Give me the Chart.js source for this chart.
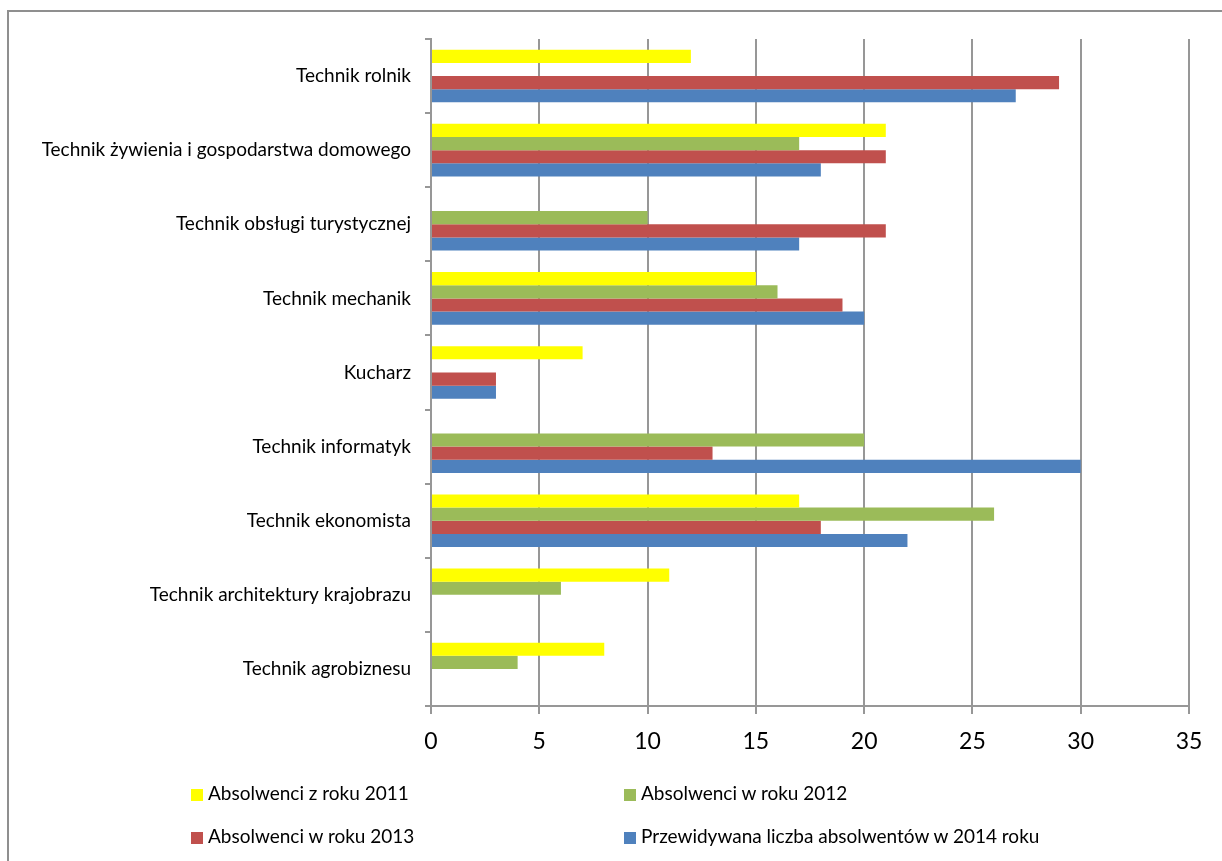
<!DOCTYPE html>
<html lang="pl">
<head>
    <meta charset="UTF-8">
    <title>Absolwenci wg zawodu</title>
    <script src="https://cdn.jsdelivr.net/npm/chart.js"></script>
    <style>
        body { margin: 0; overflow: hidden; background: #fff; font-family: Lato, "Open Sans", sans-serif; }
        #frame { position: absolute; left: 7px; top: 10px; width: 1240px; height: 880px; border: 2px solid #8f8f8f; box-sizing: border-box; }
        #myChart { position: absolute; left: 0; top: 0; }
        .leg { position: absolute; font-size: 19px; color: #000; white-space: nowrap; line-height: 22px; }
        .leg span { display: inline-block; width: 12px; height: 12px; margin-right: 5px; vertical-align: -1px; }
    </style>
</head>
<body>

<div id="frame"></div>
<canvas id="myChart" width="1222" height="861"></canvas>
<div id="legend"></div>

<script>
    // kategorie od góry do dołu
    const zawody = [
        'Technik rolnik',
        'Technik żywienia i gospodarstwa domowego',
        'Technik obsługi turystycznej',
        'Technik mechanik',
        'Kucharz',
        'Technik informatyk',
        'Technik ekonomista',
        'Technik architektury krajobrazu',
        'Technik agrobiznesu'
    ];

    const rok2011 = [12, 21, null, 15, 7, null, 17, 11, 8];
    const rok2012 = [null, 17, 10, 16, null, 20, 26, 6, 4];
    const rok2013 = [29, 21, 21, 19, 3, 13, 18, null, null];
    const rok2014 = [27, 18, 17, 20, 3, 30, 22, null, null];

    const xTicks = [0, 5, 10, 15, 20, 25, 30, 35];

    const etykiety = [
        'Absolwenci z roku 2011',
        'Absolwenci w roku 2012',
        'Absolwenci w roku 2013',
        'Przewidywana liczba absolwentów w 2014 roku'
    ];
    const kolory = ['#FFFF00', '#9BBB59', '#C0504D', '#4F81BD'];

    const serie = [rok2011, rok2012, rok2013, rok2014];

    const ctx = document.getElementById('myChart').getContext('2d');
    const chart = new Chart(ctx, {
        type: 'bar',
        data: {
            labels: zawody,
            datasets: serie.map((d, i) => ({
                label: etykiety[i],
                data: d,
                backgroundColor: kolory[i],
                borderWidth: 0,
                categoryPercentage: 0.71,
                barPercentage: 1.0
            }))
        },
        options: {
            indexAxis: 'y',
            responsive: false,
            animation: false,
            layout: { padding: { top: 39, right: 33, left: 0, bottom: 0 } },
            plugins: {
                legend: { display: false },
                tooltip: { enabled: false }
            },
            scales: {
                x: {
                    min: 0,
                    max: 35,
                    afterBuildTicks: s => { s.ticks = xTicks.map(v => ({ value: v })); },
                    afterFit: s => { s.height = 155; },
                    grid: { color: '#979797', lineWidth: 2, tickLength: 8 },
                    border: { color: '#979797', width: 2 },
                    ticks: {
                        color: '#000',
                        padding: 14,
                        font: { family: 'Lato', size: 23 }
                    }
                },
                y: {
                    afterFit: s => { s.width = 431; },
                    grid: { offset: true, drawOnChartArea: false, color: '#979797', lineWidth: 2, tickLength: 6 },
                    border: { color: '#979797', width: 2 },
                    ticks: {
                        color: '#000',
                        padding: 14,
                        autoSkip: false,
                        font: { family: 'Lato', size: 19 }
                    }
                }
            }
        }
    });

    // legenda w dwóch kolumnach jak w oryginale
    const pozycje = [[191, 782], [624, 782], [191, 825], [624, 825]];
    const leg = document.getElementById('legend');
    chart.data.datasets.forEach((ds, i) => {
        const el = document.createElement('div');
        el.className = 'leg';
        el.style.left = pozycje[i][0] + 'px';
        el.style.top = pozycje[i][1] + 'px';
        el.innerHTML = '<span style="background:' + ds.backgroundColor + '"></span>' + ds.label;
        leg.appendChild(el);
    });
</script>

</body>
</html>
